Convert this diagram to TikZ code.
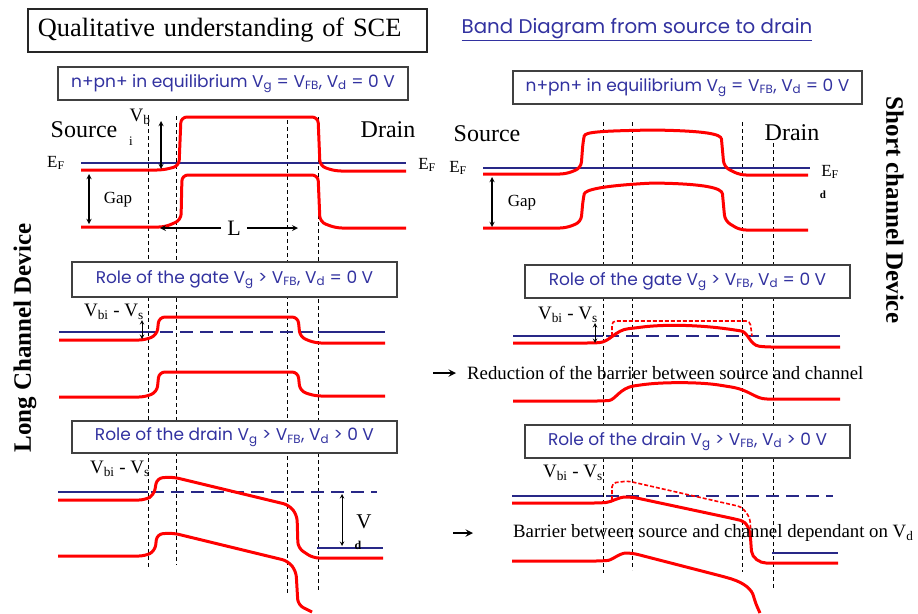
\documentclass[tikz,border=0pt]{standalone}
\usepackage{fontspec}
\setmainfont{Liberation Serif}
\newfontfamily\comicfont{Poppins}
\usepackage{xcolor}
\usetikzlibrary{calc,positioning}

\definecolor{bandred}{RGB}{255,0,0}
\definecolor{fermiblue}{RGB}{40,40,135}
\definecolor{labelblue}{RGB}{50,50,160}

\begin{document}
\begin{tikzpicture}[
    x=1pt, y=-1pt,
    panel/.style={rectangle, draw=black!75, fill=white, line width=1.2pt, minimum height=33pt, font=\comicfont\fontsize{17}{19}\selectfont, text=labelblue},
    band/.style={draw=bandred, line width=3pt, rounded corners=6pt},
    oldband/.style={draw=bandred, line width=1.6pt, dash pattern=on 4pt off 2pt, rounded corners=4pt},
    fermi/.style={draw=fermiblue, line width=2.8pt},
    fermidash/.style={draw=fermiblue, line width=2.8pt, dash pattern=on 13pt off 7pt},
    guide/.style={draw=black, line width=0.8pt, dash pattern=on 4pt off 3pt},
    dim/.style={<->, >=stealth, line width=1.3pt},
    arrow/.style={->, >=stealth, line width=2.2pt},
    side/.style={font=\fontsize{24}{26}\selectfont, inner sep=0pt},
    level/.style={font=\fontsize{17}{19}\selectfont, inner sep=0pt},
    drop/.style={font=\fontsize{19}{21}\selectfont, inner sep=0pt},
    note/.style={font=\fontsize{18.8}{21}\selectfont, inner sep=0pt, anchor=west},
    device/.style={font=\bfseries\fontsize{25}{27}\selectfont, inner sep=0pt}
]
    \fill[white] (0,0) rectangle (918,613);
    \useasboundingbox (0,0) rectangle (918,613);

    % dashed junction edges
    \foreach \gx/\gtop/\gbot in {148/115/567, 176/116/565, 287/120/595, 318/117/592,
                                 603/122/573, 632/122/570, 742/122/572, 773/143/588}
        \draw[guide] (\gx,\gtop) -- (\gx,\gbot);

    % --- long channel, equilibrium
    \draw[fermi] (81,163) -- (406,163);
    \draw[band] (81,170) -- (163,170) -- (179,166) -- (181,117) -- (318,117) -- (320,166) -- (335,171) -- (406,171);
    \draw[band] (81,227) -- (165,227) -- (181,220) -- (182,175) -- (318,175) -- (320,222) -- (336,228) -- (406,228);

    % --- short channel, equilibrium
    \draw[fermi] (483,168) -- (810,168);
    \draw[band] (483,174) -- (566,174) -- (581,168) -- (583,142)
        .. controls (585,132) and (600,131) .. (653,130)
        .. controls (705,131) and (721,134) .. (722,145) -- (724,167) -- (740,175) -- (808,175);
    \draw[band] (483,228) -- (566,228) -- (581,222) -- (583,200)
        .. controls (585,190) and (600,186) .. (653,183)
        .. controls (705,184) and (722,188) .. (723,200) -- (725,221) -- (740,230) -- (808,230);

    % --- long channel, gate
    \draw[fermi] (59,332) -- (157,332) (318,332) -- (385,332);
    \draw[fermidash] (160,332) -- (318,332);
    \draw[band] (59,340) -- (145,340) -- (157,335) -- (159,317) -- (298,317) -- (300,337) -- (315,343) -- (385,343);
    \draw[band] (59,397) -- (145,397) -- (157,392) -- (159,372) -- (298,372) -- (300,391) -- (315,396) -- (385,396);

    % --- short channel, gate
    \draw[fermi] (513,336) -- (603,336) (768,336) -- (840,336);
    \draw[fermidash] (606,336) -- (768,336);
    \draw[oldband] (612,336) -- (612,321) -- (750,321) -- (752,336);
    \draw[band] (513,343) -- (593,343) .. controls (610,342) and (615,330) .. (635,328)
        .. controls (665,324) and (700,325) .. (735,330)
        .. controls (748,332) and (750,345) .. (765,347) -- (840,347);
    \draw[band] (513,401) -- (603,401) .. controls (615,400) and (620,388) .. (640,385)
        .. controls (665,382) and (700,382) .. (725,386)
        .. controls (750,390) and (755,399) .. (773,399) -- (840,399);

    % --- long channel, drain
    \draw[fermi] (58,492) -- (148,492);
    \draw[fermidash] (151,492) -- (377,492);
    \draw[fermi] (317,548) -- (383,548);
    \draw[band] (58,500) -- (145,500) -- (154,495) -- (157,478) -- (173,477) -- (289,505) -- (297,515) -- (298,548) -- (313,558) -- (383,558);
    \draw[band] (58,556) -- (145,556) -- (155,551) -- (157,534) -- (173,533) -- (288,561) -- (296,571) -- (298,605) -- (312,612);

    % --- short channel, drain
    \draw[fermi] (512,496) -- (603,496);
    \draw[fermidash] (606,496) -- (833,496);
    \draw[fermi] (772,553) -- (838,553);
    \draw[oldband] (612,500) -- (612,483) -- (628,481) -- (742,507) -- (750,518) -- (751,537);
    \draw[band] (512,503) -- (600,503) .. controls (612,502) and (618,497) .. (632,497) -- (735,519)
        .. controls (747,522) and (750,530) .. (751,545)
        .. controls (752,558) and (760,563) .. (772,563) -- (838,563);
    \draw[band] (512,561) -- (602,561) .. controls (612,560) and (620,553) .. (632,553) -- (725,577)
        .. controls (745,583) and (752,590) .. (755,602) -- (760,613);

    % headings
    \node[draw=black!85, line width=1.6pt, fill=white, text width=379pt, align=left, inner xsep=10pt,
          minimum height=43pt, anchor=west, font=\fontsize{26.4}{30}\selectfont] (title) at (27,30.5)
        {Qualitative understanding of SCE};
    \node[font=\comicfont\fontsize{19.8}{22}\selectfont, text=labelblue, inner sep=0pt] (subtitle) at (637,30)
        {\underline{Band Diagram from source to drain}};

    \node[panel, minimum width=350pt] (eqL) at (233,83.5)
        {n+pn+ in equilibrium V\textsubscript{g} = V\textsubscript{FB}, V\textsubscript{d} = 0 V};
    \node[panel, minimum width=349pt] (eqR) at (687.5,87.5)
        {n+pn+ in equilibrium V\textsubscript{g} = V\textsubscript{FB}, V\textsubscript{d} = 0 V};
    \node[panel, minimum width=325pt, minimum height=35pt] (gateL) at (234.5,279.5)
        {Role of the gate V\textsubscript{g} > V\textsubscript{FB}, V\textsubscript{d} = 0 V};
    \node[panel, minimum width=325pt] (gateR) at (687.5,281.5)
        {Role of the gate V\textsubscript{g} > V\textsubscript{FB}, V\textsubscript{d} = 0 V};
    \node[panel, minimum width=325pt, minimum height=32pt] (drainL) at (234.5,437)
        {Role of the drain V\textsubscript{g} > V\textsubscript{FB}, V\textsubscript{d} > 0 V};
    \node[panel, minimum width=325pt] (drainR) at (687.5,441.5)
        {Role of the drain V\textsubscript{g} > V\textsubscript{FB}, V\textsubscript{d} > 0 V};

    % side labels
    \node[device, rotate=90] (longdev) at (25,338) {Long Channel Device};
    \node[device, rotate=-90] (shortdev) at (895,210) {Short channel Device};

    % equilibrium, long
    \node[side] (srcL) at (84,130) {Source};
    \node[side] (drnL) at (388,130) {Drain};
    \node[level] (efL) at (56,163) {E\textsubscript{F}};
    \node[level] (efLd) at (427,165) {E\textsubscript{F}};
    \node[drop] (vbi) at (140,117) {V\textsubscript{b}};
    \node[font=\fontsize{13}{14}\selectfont, inner sep=0pt] (vbii) at (131,141) {i};
    \coordinate (vbitop) at (161,121);
    \coordinate (vbibot) at (161,169);
    \draw[dim] (vbitop) -- (vbibot);
    \coordinate (gaptopL) at (89,174);
    \coordinate (gapbotL) at (89,224);
    \draw[dim] (gaptopL) -- (gapbotL);
    \node[level] (gapL) at (118,200) {Gap};
    \node[font=\fontsize{22}{24}\selectfont, inner sep=0pt] (len) at (234,228) {L};
    \coordinate (lenL) at (160,228);
    \coordinate (lenR) at (298,228);
    \draw[arrow, line width=1.6pt] (len.west) ++(-6,0) -- (lenL);
    \draw[arrow, line width=1.6pt] (len.east) ++(6,0) -- (lenR);

    % equilibrium, short
    \node[side] (srcR) at (487,134) {Source};
    \node[side] (drnR) at (792,133) {Drain};
    \node[level] (efR) at (458,168) {E\textsubscript{F}};
    \node[level] (efRd) at (830,172) {E\textsubscript{F}};
    \node[font=\bfseries\fontsize{11}{12}\selectfont, inner sep=0pt] (dR) at (823,195) {d};
    \coordinate (gaptopR) at (492,177);
    \coordinate (gapbotR) at (492,227);
    \draw[dim] (gaptopR) -- (gapbotR);
    \node[level] (gapR) at (522,203) {Gap};

    % gate panels
    \node[drop] (vsL) at (114,312) {V\textsubscript{bi} - V\textsubscript{s}};
    \coordinate (vsLtop) at (142,320);
    \coordinate (vsLbot) at (142,339);
    \draw[dim, line width=1pt] (vsLtop) -- (vsLbot);
    \node[drop] (vsR) at (568,315) {V\textsubscript{bi} - V\textsubscript{s}};
    \coordinate (vsRtop) at (595,323);
    \coordinate (vsRbot) at (595,343);
    \draw[dim, line width=1pt] (vsRtop) -- (vsRbot);
    \coordinate (redtail) at (433,373);
    \node[note] (reduce) at (467,373) {Reduction of the barrier between source and channel};
    \draw[arrow, shorten >=11pt] (redtail) -- (reduce.west);

    % drain panels
    \node[drop] (vsL3) at (120,469) {V\textsubscript{bi} - V\textsubscript{s}};
    \node[drop] (vsR3) at (573,473) {V\textsubscript{bi} - V\textsubscript{s}};
    \coordinate (vdtop) at (342,494);
    \coordinate (vdbot) at (342,546);
    \draw[dim, line width=1pt] (vdtop) -- (vdbot);
    \node[drop, font=\fontsize{21}{22}\selectfont] (vd) at (364,522) {V};
    \node[font=\bfseries\fontsize{12}{13}\selectfont, inner sep=0pt] (vdsub) at (358,545) {d};
    \coordinate (bartail) at (453,533);
    \node[note] (barrier) at (513,533) {Barrier between source and channel dependant on V\textsubscript{d}};
    \draw[arrow, shorten >=40pt] (bartail) -- (barrier.west);
\end{tikzpicture}
\end{document}
